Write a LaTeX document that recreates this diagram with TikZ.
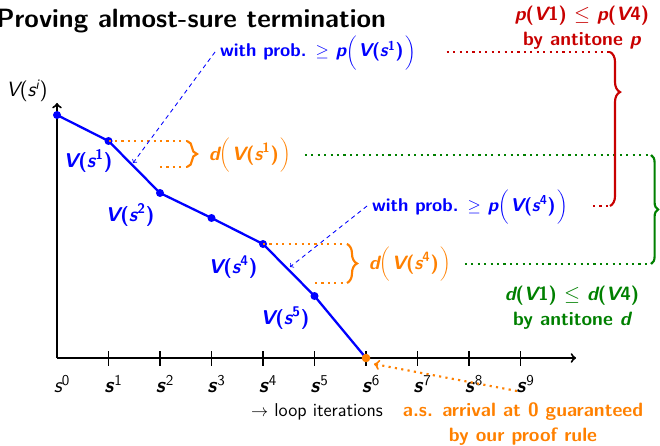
\documentclass[tikz,border=0pt]{standalone}
\usetikzlibrary{decorations.pathreplacing}

\definecolor{pblue}{RGB}{0,0,255}
\definecolor{porange}{RGB}{255,128,0}
\definecolor{pred}{RGB}{200,0,0}
\definecolor{pgreen}{RGB}{0,128,0}

\newcommand{\mv}[1]{{\slshape #1}}
\newcommand{\Vs}[1]{\mv{V}(\mv{s}\textsuperscript{#1})}
\newcommand{\Lp}{$\left(\rule[-8pt]{0pt}{24pt}\right.$}
\newcommand{\Rp}{$\left.\rule[-8pt]{0pt}{24pt}\right)$}

\begin{document}
\begin{tikzpicture}[x=0.7pt,y=-0.7pt,line width=0.5pt,
  every node/.style={font=\sffamily},
  axisline/.style={line width=1.4pt,->},
  vline/.style={pblue,line width=1.6pt},
  vlab/.style={pblue,font=\sffamily\bfseries\fontsize{14}{16}\selectfont},
  wlab/.style={pblue,font=\sffamily\bfseries\fontsize{13}{15}\selectfont},
  dlab/.style={porange,font=\sffamily\bfseries\fontsize{13.5}{16}\selectfont},
  dotline/.style={line width=1.5pt,dash pattern=on 1.5pt off 3pt},
  bracepath/.style={line width=1.5pt,decorate,decoration={brace,amplitude=#1}},
  parrow/.style={pblue,line width=0.6pt,dash pattern=on 3pt off 2.5pt,->},
  twoline/.style={align=center,font=\sffamily\bfseries\fontsize{13.5}{17.5}\selectfont}]
\useasboundingbox (0,0) rectangle (660,446);
% ---- title and axis label ----
\node[anchor=base east,font=\sffamily\bfseries\fontsize{18.5}{21}\selectfont] (title) at (391,28) {Proving almost-sure termination};
\node[font=\sffamily\fontsize{14.5}{16}\selectfont] (ylab) at (27,91) {\mv{V}(\mv{s}\textsuperscript{\mv{i}})};
% ---- axes and ticks ----
\coordinate (o) at (57,358);
\coordinate (ytop) at (57,103);
\coordinate (xend) at (576,358);
\draw[axisline] (o) -- (ytop);
\draw[axisline] (o) -- (xend);
\foreach \i in {1,...,9} \draw[line width=1pt] (57+51.5*\i,351) -- (57+51.5*\i,366);
\node[font=\sffamily\fontsize{15}{15}\selectfont] (t0) at (62,384) {\mv{s}\textsuperscript{0}};
\foreach \i in {1,...,9}
  \node[font=\sffamily\fontsize{15}{15}\selectfont] (t\i) at (62+51.5*\i,384) {\textbf{\mv{s}}\textsuperscript{\i}};
\node[font=\sffamily\fontsize{13}{15}\selectfont] (iter) at (317,412) {$\rightarrow$ loop iterations};
% ---- the run V(s^i) ----
\foreach \i/\y in {0/115,1/141,2/193,3/218,4/244,5/296,6/358}
  \coordinate (p\i) at (57+51.5*\i,\y);
\draw[vline] (p0) \foreach \i in {1,...,6} {-- (p\i)};
\foreach \i in {0,...,5} \fill[pblue] (p\i) circle (2.8pt);
\fill[porange] (p6) circle (3pt);
\node[vlab] (v1) at (88,161) {\Vs{1}};
\node[vlab] (v2) at (130,215) {\Vs{2}};
\node[vlab] (v4) at (233,267) {\Vs{4}};
\node[vlab] (v5) at (285,318) {\Vs{5}};
% ---- d(V(s^1)) and d(V(s^4)) ----
\coordinate (b1t) at (187,141);
\coordinate (b1l) at (160,167);
\coordinate (b1b) at (187,167);
\coordinate (b4t) at (347,244);
\coordinate (b4l) at (315,283);
\coordinate (b4b) at (347,283);
\draw[porange,dotline] (p1) -- (b1t);
\draw[porange,dotline] (b1l) -- (b1b);
\draw[porange,bracepath=7pt] (b1t) -- (b1b);
\draw[porange,dotline] (p4) -- (b4t);
\draw[porange,dotline] (b4l) -- (b4b);
\draw[porange,bracepath=7pt] (b4t) -- (b4b);
\node[dlab] (d1) at (250,155) {\mv{d}\Lp\Vs{1}\Rp};
\node[dlab] (d4) at (410,264) {\mv{d}\Lp\Vs{4}\Rp};
% ---- probabilities ----
\node[wlab] (w1) at (318,52) {with prob. $\geq$ \mv{p}\Lp\Vs{1}\Rp};
\node[wlab] (w4) at (470,206) {with prob. $\geq$ \mv{p}\Lp\Vs{4}\Rp};
\coordinate (a1) at (133,163);
\coordinate (a4) at (290,267);
\draw[parrow] (w1.west) -- (a1);
\draw[parrow] (w4.west) -- (a4);
% ---- antitone d (green) ----
\coordinate (gtop) at (651,155);
\coordinate (gbot) at (651,264);
\draw[pgreen,dotline,shorten <=6pt] (d1.east) -- (gtop);
\draw[pgreen,dotline,shorten <=6pt] (d4.east) -- (gbot);
\draw[pgreen,bracepath=5pt] (gtop) -- (gbot);
\node[twoline,pgreen] (gtxt) at (572,308) {\mv{d}(\mv{V}1) $\leq$ \mv{d}(\mv{V}4)\\by antitone \mv{d}};
% ---- antitone p (red) ----
\coordinate (rtop) at (610,52);
\coordinate (rbot) at (610,206);
\draw[pred,dotline,shorten <=18pt] (w1.east) -- (rtop);
\draw[pred,dotline,shorten <=14pt] (w4.east) -- (rbot);
\draw[pred,bracepath=7pt,decoration={aspect=0.26}] (rtop) -- (rbot);
\node[twoline,pred] (rtxt) at (582,28) {\mv{p}(\mv{V}1) $\leq$ \mv{p}(\mv{V}4)\\by antitone \mv{p}};
% ---- arrival at 0 ----
\coordinate (os) at (517,391);
\coordinate (oe) at (374,364);
\draw[porange,dotline,->] (os) -- (oe);
\node[twoline,porange] (arr) at (523,424) {a.s. arrival at 0 guaranteed\\by our proof rule};
\end{tikzpicture}
\end{document}
